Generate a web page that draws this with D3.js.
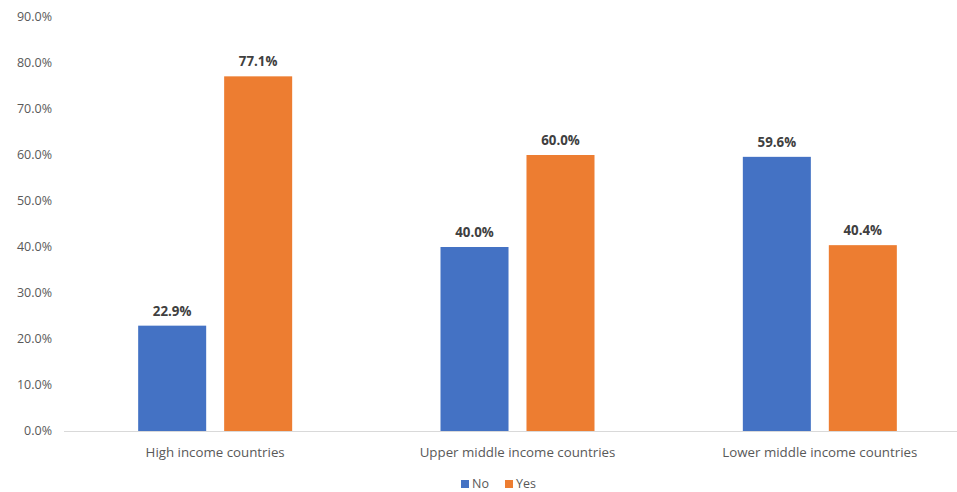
<!DOCTYPE html>
<html><head><meta charset="utf-8">
<script src="https://cdn.jsdelivr.net/npm/d3@7"></script>
<style>body{margin:0;background:#fff}svg{display:block}text{font-family:"Open Sans","Liberation Sans",sans-serif}</style>
</head><body><svg id="c" width="957" height="492"></svg>
<script>
const categories = ["High income countries","Upper middle income countries","Lower middle income countries"];
const seriesNames = ["No","Yes"];
const noValues = [22.9, 40.0, 59.6];
const yesValues = [77.1, 60.0, 40.4];
const yTicks = [0,10,20,30,40,50,60,70,80,90];
const colors = ["#4472C4","#ED7D31"];

const svg = d3.select("#c");
const y = d3.scaleLinear().domain([0,90]).range([431,17]);
const x0 = d3.scaleBand().domain(categories).range([64,971]);
const x1 = d3.scaleBand().domain(seriesNames).range([0,154]).paddingInner(0.209);

// y labels
svg.append("g").selectAll("text").data(yTicks).join("text")
  .attr("x",52).attr("y",d=>y(d)).attr("dy","0.35em").attr("text-anchor","end")
  .attr("font-size",12.5).attr("fill","#595959").text(d=>d.toFixed(1)+"%");

// baseline
svg.append("line").attr("x1",64).attr("x2",957).attr("y1",y(0)+0.5).attr("y2",y(0)+0.5)
  .attr("stroke","#d9d9d9").attr("stroke-width",1);

const data = categories.map((c,i)=>({cat:c, vals:[{s:"No",v:noValues[i]},{s:"Yes",v:yesValues[i]}]}));
const g = svg.append("g").selectAll("g").data(data).join("g")
  .attr("transform",d=>`translate(${x0(d.cat)+x0.bandwidth()/2-77},0)`);
g.selectAll("rect").data(d=>d.vals).join("rect")
  .attr("x",d=>x1(d.s)).attr("width",x1.bandwidth())
  .attr("y",d=>y(d.v)).attr("height",d=>y(0)-y(d.v))
  .attr("fill",(d,i)=>colors[i]);
g.selectAll("text").data(d=>d.vals).join("text")
  .attr("x",d=>x1(d.s)+x1.bandwidth()/2).attr("y",d=>y(d.v)-10)
  .attr("text-anchor","middle").attr("font-size",13.3).attr("font-weight","bold")
  .attr("fill","#404040").text(d=>d.v.toFixed(1)+"%");

// x labels
svg.append("g").selectAll("text").data(categories).join("text")
  .attr("x",d=>x0(d)+x0.bandwidth()/2).attr("y",452).attr("dy","0.35em")
  .attr("text-anchor","middle").attr("font-size",13.3).attr("fill","#595959").text(d=>d);

// legend
const leg = svg.append("g");
const lx = [461, 505];
seriesNames.forEach((s,i)=>{
  leg.append("rect").attr("x",lx[i]).attr("y",480).attr("width",8).attr("height",8).attr("fill",colors[i]);
  leg.append("text").attr("x",lx[i]+11).attr("y",484).attr("dy","0.35em").attr("font-size",12.5)
    .attr("fill","#595959").text(s);
});
</script></body></html>
